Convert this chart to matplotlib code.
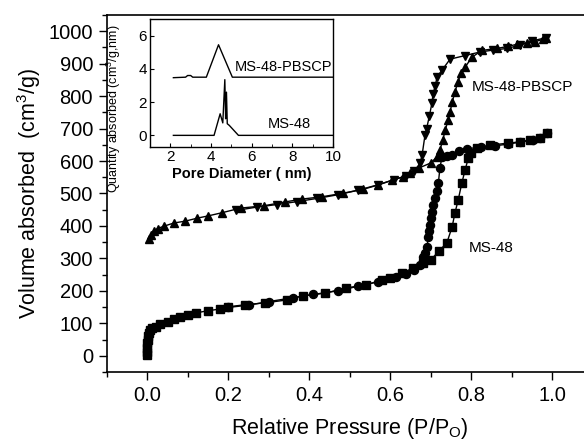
import matplotlib
matplotlib.use("Agg")
import matplotlib.pyplot as plt
from matplotlib.ticker import MultipleLocator

plt.rcParams['font.family'] = ['Liberation Sans', 'DejaVu Sans']

# MS-48-PBSCP adsorption / desorption
pb_ads_x = [0.003, 0.008, 0.015, 0.025, 0.04, 0.065, 0.094, 0.123, 0.15, 0.185, 0.23, 0.287,
            0.34, 0.383, 0.432, 0.484, 0.533, 0.57, 0.605, 0.632, 0.65, 0.67, 0.70, 0.715,
            0.723, 0.73, 0.736, 0.743, 0.748, 0.753, 0.76, 0.767, 0.775, 0.785, 0.802, 0.827,
            0.864, 0.89, 0.914, 0.938, 0.958, 0.978, 0.985]
pb_ads_y = [360, 372, 384, 392, 399, 409, 415, 424, 431, 441, 455, 462,
            474, 483, 490, 501, 513, 526, 541, 551, 563, 578, 594, 612,
            634, 665, 695, 726, 751, 781, 812, 843, 870, 889, 920, 941,
            947, 953, 960, 963, 968, 975, 980]
pb_des_x = [0.985, 0.95, 0.92, 0.889, 0.855, 0.822, 0.785, 0.748, 0.728, 0.716, 0.711, 0.706,
            0.703, 0.697, 0.69, 0.686, 0.679, 0.674, 0.66, 0.64, 0.61, 0.57, 0.52, 0.47,
            0.42, 0.37, 0.32, 0.27, 0.22]
pb_des_y = [980, 970, 957, 947, 942, 936, 925, 914, 880, 860, 830, 808,
            778, 740, 700, 680, 620, 594, 570, 555, 543, 527, 510, 496,
            485, 475, 466, 458, 448]

# MS-48 adsorption / desorption
ms_ads_x = [0.0, 0.0, 0.0, 0.0, 0.001, 0.002, 0.004, 0.007, 0.012, 0.02, 0.03, 0.05, 0.065,
            0.08, 0.1, 0.12, 0.15, 0.18, 0.2, 0.24, 0.29, 0.345, 0.385, 0.44, 0.49, 0.54,
            0.58, 0.6, 0.63, 0.657, 0.68, 0.70, 0.72, 0.74, 0.753, 0.76, 0.768, 0.777,
            0.785, 0.793, 0.80, 0.815, 0.847, 0.89, 0.92, 0.945, 0.97, 0.987]
ms_ads_y = [2, 12, 25, 38, 50, 60, 70, 78, 85, 90, 97, 105, 112,
            120, 127, 132, 139, 144, 151, 157, 163, 172, 185, 193, 209, 218,
            234, 240, 255, 271, 286, 295, 322, 348, 397, 440, 480, 532,
            572, 609, 624, 640, 649, 655, 659, 665, 670, 686]
ms_des_x = [0.987, 0.97, 0.953, 0.92, 0.89, 0.86, 0.825, 0.79, 0.77, 0.753, 0.74, 0.728,
            0.723, 0.719, 0.715, 0.711, 0.707, 0.704, 0.701, 0.699, 0.696, 0.694, 0.691,
            0.686, 0.682, 0.674, 0.66, 0.64, 0.615, 0.57, 0.52, 0.47, 0.41, 0.36, 0.30,
            0.25, 0.20]
ms_des_y = [686, 672, 665, 658, 652, 647, 643, 638, 630, 618, 615, 612,
            580, 532, 508, 486, 465, 443, 423, 403, 385, 366, 335,
            318, 305, 280, 263, 252, 243, 228, 214, 200, 189, 179, 167,
            156, 149]

# Inset pore size distribution
in_pb_x = [2.15, 2.75, 2.85, 3.0, 3.1, 3.77, 4.37, 5.05, 10.0]
in_pb_y = [3.47, 3.5, 3.6, 3.6, 3.5, 3.5, 5.45, 3.5, 3.5]
in_ms_x = [2.15, 4.15, 4.45, 4.58, 4.68, 4.72, 4.76, 4.8, 4.9, 5.35, 10.0]
in_ms_y = [0.0, 0.0, 1.3, 0.75, 3.35, 1.0, 2.6, 0.7, 0.6, 0.0, 0.0]

x_ticks = [0.0, 0.2, 0.4, 0.6, 0.8, 1.0]
y_ticks = list(range(0, 1001, 100))

fig = plt.figure(figsize=(5.84, 4.44), dpi=100)
ax = fig.add_axes([107/584, 1-372/444, (592.5-107)/584, (372-15)/444])

ms = 5.8
ax.plot(pb_ads_x, pb_ads_y, '-^', color='black', lw=1, ms=ms)
ax.plot(pb_des_x, pb_des_y, '-v', color='black', lw=1, ms=ms)
ax.plot(ms_ads_x, ms_ads_y, '-s', color='black', lw=1, ms=ms-0.6)
ax.plot(ms_des_x, ms_des_y, '-o', color='black', lw=1, ms=ms)

ax.set_xlim(-0.1, 1.1)
ax.set_ylim(-50, 1050)
ax.set_xticks(x_ticks)
ax.set_xticklabels([f"{v:.1f}" for v in x_ticks])
ax.set_yticks(y_ticks)
ax.xaxis.set_minor_locator(MultipleLocator(0.1))
ax.yaxis.set_minor_locator(MultipleLocator(50))
ax.tick_params(which='major', direction='out', length=6, width=1, labelsize=14.5, pad=4)
ax.tick_params(which='minor', direction='out', length=3.5, width=1)
for s in ax.spines.values():
    s.set_linewidth(1.2)
ax.spines['right'].set_visible(False)

ax.set_xlabel('Relative Pressure (P/P$_\\mathregular{O}$)', fontsize=15.5, labelpad=8)
ax.set_ylabel('Volume absorbed  (cm$^\\mathregular{3}$/g)', fontsize=15.5, labelpad=4)

ax.text(0.802, 828, 'MS-48-PBSCP', fontsize=11, va='center', ha='left')
ax.text(0.795, 332, 'MS-48', fontsize=11, va='center', ha='left')

# Inset
ins = fig.add_axes([150/584, 1-147/444, (333-150)/584, (147-19)/444])
ins.plot(in_pb_x, in_pb_y, '-', color='black', lw=1)
ins.plot(in_ms_x, in_ms_y, '-', color='black', lw=1)
ins.set_xlim(1, 10)
ins.set_ylim(-0.7, 7)
ins.set_xticks([2, 4, 6, 8, 10])
ins.set_yticks([0, 2, 4, 6])
ins.xaxis.set_minor_locator(MultipleLocator(1))
ins.tick_params(which='major', direction='in', length=3, labelsize=11, pad=2)
ins.tick_params(which='minor', direction='in', length=2)
for s in ins.spines.values():
    s.set_linewidth(1)
ins.set_xlabel('Pore Diameter ( nm)', fontsize=10.5, fontweight='bold', labelpad=2)
ins.set_ylabel('Quantity absorbed (cm$^\\mathregular{3}$/g,nm)', fontsize=9)
ins.yaxis.set_label_coords(-0.148, 0.30)
ins.text(5.15, 4.1, 'MS-48-PBSCP', fontsize=10.5, va='center', ha='left')
ins.text(6.78, 0.7, 'MS-48', fontsize=10.5, va='center', ha='left')

fig.savefig('out.png', dpi=100)
